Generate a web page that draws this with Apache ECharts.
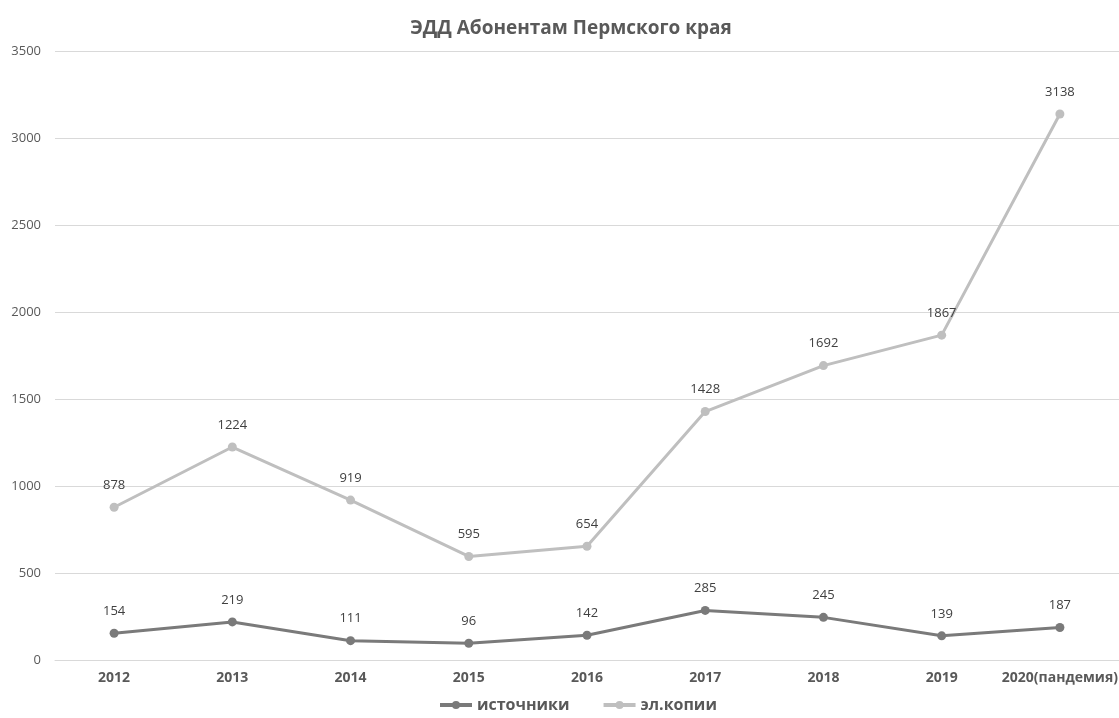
<!DOCTYPE html>
<html><head><meta charset="utf-8">
<script src="https://cdn.jsdelivr.net/npm/echarts@6/dist/echarts.min.js"></script>
<style>html,body{margin:0;padding:0;background:#fff}#c{width:1119px;height:718px}</style>
</head><body><div id="c"></div>
<script>
const categories = ['2012','2013','2014','2015','2016','2017','2018','2019','2020(пандемия)'];
const sources = [154,219,111,96,142,285,245,139,187];
const copies = [878,1224,919,595,654,1428,1692,1867,3138];
const yTicks = {min:0, max:3500, interval:500};
const font = "'Open Sans', 'Noto Sans', sans-serif";
const chart = echarts.init(document.getElementById('c'));
chart.setOption({
  animation:false,
  textStyle:{fontFamily:font},
  title:{text:'ЭДД Абонентам Пермского края', left:566, textAlign:'center', top:14,
    textStyle:{fontFamily:font, fontSize:19, fontWeight:'bold', color:'#595959'}},
  grid:{left:55, right:0, top:51, bottom:58, outerBoundsMode:'none', containLabel:false},
  legend:{bottom:0, left:433, itemWidth:32, itemHeight:10, itemGap:32,
    lineStyle:{width:4},
    textStyle:{fontFamily:font, fontSize:16, fontWeight:'bold', color:'#595959'}},
  xAxis:{type:'category', data:categories, boundaryGap:true,
    axisLine:{lineStyle:{color:'#d9d9d9'}}, axisTick:{show:false},
    axisLabel:{fontFamily:font, fontSize:14, fontWeight:'bold', color:'#595959', margin:11, interval:0}},
  yAxis:{type:'value', min:yTicks.min, max:yTicks.max, interval:yTicks.interval,
    axisLine:{show:false}, axisTick:{show:false},
    splitLine:{lineStyle:{color:'#d9d9d9'}},
    axisLabel:{fontFamily:font, fontSize:13, color:'#595959', margin:14, formatter:v=>String(v)}},
  series:[
    {name:'источники', type:'line', data:sources, symbol:'circle', symbolSize:9,
      lineStyle:{width:3, color:'#7a7a7a'}, itemStyle:{color:'#7a7a7a'},
      label:{show:true, position:'top', distance:11, fontFamily:font, fontSize:13, color:'#404040'}},
    {name:'эл.копии', type:'line', data:copies, symbol:'circle', symbolSize:9,
      lineStyle:{width:3, color:'#bfbfbf'}, itemStyle:{color:'#bfbfbf'},
      label:{show:true, position:'top', distance:11, fontFamily:font, fontSize:13, color:'#404040'}}
  ]
});
</script></body></html>
